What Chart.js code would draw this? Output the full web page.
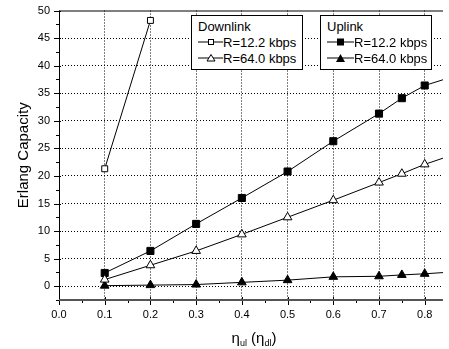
<!DOCTYPE html>
<html>
<head>
<meta charset="utf-8">
<script src="https://cdn.jsdelivr.net/npm/chart.js@4"></script>
<style>
  body { margin: 0; background: #fff; font-family: "Liberation Sans", Arial, sans-serif; }
  #wrap { position: relative; width: 449px; height: 349px; overflow: hidden; }
  .legend { position: absolute; top: 15px; height: 50px; border: 1px solid #000; background: #fff;
            font-size: 13px; line-height: 16px; padding-top: 3px; box-sizing: content-box; }
  .legend .row { white-space: nowrap; height: 16px; }
  .legend svg { vertical-align: middle; margin-top: -3px; }
  #xtitle { position: absolute; left: 0; width: 508px; top: 329px; text-align: center; font-size: 15px; }
  #xtitle sub { font-size: 9px; vertical-align: -3px; }
</style>
</head>
<body>
<div id="wrap">
  <canvas id="erlangChart"></canvas>
  <div class="legend" style="left:191px; width:104px; padding-left:6px;">
    <div class="row">Downlink</div>
    <div class="row"><svg width="25" height="10"><line x1="0" y1="5" x2="25" y2="5" stroke="#000"/><rect x="10.5" y="2.5" width="5" height="5" fill="#fff" stroke="#000"/></svg>R=12.2 kbps</div>
    <div class="row"><svg width="25" height="10"><line x1="0" y1="5" x2="25" y2="5" stroke="#000"/><polygon points="13,1.5 17,8 9,8" fill="#fff" stroke="#000"/></svg>R=64.0 kbps</div>
  </div>
  <div class="legend" style="left:320px; width:104px; padding-left:6px;">
    <div class="row">Uplink</div>
    <div class="row"><svg width="27" height="10"><line x1="0" y1="5" x2="27" y2="5" stroke="#000"/><rect x="10" y="1.5" width="7" height="7" fill="#000"/></svg>R=12.2 kbps</div>
    <div class="row"><svg width="27" height="10"><line x1="0" y1="5" x2="27" y2="5" stroke="#000"/><polygon points="13.5,1 18,9 9,9" fill="#000"/></svg>R=64.0 kbps</div>
  </div>
  <div id="xtitle">&eta;<sub>ul</sub> (&eta;<sub>dl</sub>)</div>
</div>
<script>
// load factor values
const etaValues = [0.1, 0.2, 0.3, 0.4, 0.5, 0.6, 0.7, 0.75, 0.8, 0.9];
const dlEtaValues = [0.1, 0.2];

// Erlang capacity
const downlink122 = [21.3, 48.2];
const downlink640 = [1.2, 3.8, 6.4, 9.4, 12.5, 15.6, 18.8, 20.4, 22.1, 24.9];
const uplink122 = [2.4, 6.4, 11.3, 16.0, 20.8, 26.3, 31.3, 34.1, 36.4, 39.0];
const uplink640 = [0.1, 0.2, 0.3, 0.7, 1.1, 1.7, 1.8, 2.05, 2.25, 2.8];

const xTicks = [0, 0.1, 0.2, 0.3, 0.4, 0.5, 0.6, 0.7, 0.8];
const yTicks = [0, 5, 10, 15, 20, 25, 30, 35, 40, 45, 50];

const toPoints = (xs, ys) => ys.map((y, i) => ({ x: xs[i], y: y }));
const font = { family: 'Liberation Sans, Arial, sans-serif', size: 11 };

// axis lines + major/minor tick marks
const axisPlugin = {
  id: 'axisPlugin',
  afterDraw(chart) {
    const { ctx, chartArea: a, scales: { x, y } } = chart;
    ctx.save();
    ctx.strokeStyle = '#000';
    ctx.lineWidth = 1;
    ctx.beginPath();
    ctx.moveTo(a.left, a.top + 0.5); ctx.lineTo(a.right, a.top + 0.5);
    ctx.moveTo(a.left + 0.5, a.top); ctx.lineTo(a.left + 0.5, a.bottom);
    for (let v = -2.5; v <= 50; v += 2.5) {
      const py = Math.round(y.getPixelForValue(v)) + 0.5;
      const major = v % 5 === 0;
      ctx.moveTo(a.left - (major ? 5 : 3), py); ctx.lineTo(a.left + (major ? 2 : 0), py);
    }
    for (let i = 0; i <= 16; i++) {
      const v = i * 0.05;
      const px = Math.round(x.getPixelForValue(v)) + 0.5;
      const major = i % 2 === 0;
      ctx.moveTo(px, a.bottom - (major ? 3 : 1)); ctx.lineTo(px, a.bottom + (major ? 5 : 3));
    }
    ctx.stroke();
    ctx.strokeStyle = '#555';
    ctx.lineWidth = 2;
    ctx.beginPath();
    ctx.moveTo(a.left, a.bottom); ctx.lineTo(a.right, a.bottom);
    ctx.stroke();
    ctx.restore();
  }
};

const ctx = document.getElementById('erlangChart').getContext('2d');
new Chart(ctx, {
  type: 'line',
  data: {
    datasets: [
      {
        label: 'Downlink R=12.2 kbps',
        data: toPoints(dlEtaValues, downlink122),
        borderColor: '#000', borderWidth: 1,
        pointStyle: 'rect', pointRadius: 4.2,
        pointBackgroundColor: '#fff', pointBorderColor: '#000', pointBorderWidth: 1
      },
      {
        label: 'Downlink R=64.0 kbps',
        data: toPoints(etaValues, downlink640),
        borderColor: '#000', borderWidth: 1,
        pointStyle: 'triangle', pointRadius: 5,
        pointBackgroundColor: '#fff', pointBorderColor: '#000', pointBorderWidth: 1
      },
      {
        label: 'Uplink R=12.2 kbps',
        data: toPoints(etaValues, uplink122),
        borderColor: '#000', borderWidth: 1,
        pointStyle: 'rect', pointRadius: 5,
        pointBackgroundColor: '#000', pointBorderColor: '#000', pointBorderWidth: 1
      },
      {
        label: 'Uplink R=64.0 kbps',
        data: toPoints(etaValues, uplink640),
        borderColor: '#000', borderWidth: 1,
        pointStyle: 'triangle', pointRadius: 5,
        pointBackgroundColor: '#000', pointBorderColor: '#000', pointBorderWidth: 1
      }
    ]
  },
  options: {
    responsive: true,
    maintainAspectRatio: false,
    animation: false,
    layout: { padding: { top: 0, right: 0, bottom: 0, left: 0 } },
    plugins: { legend: { display: false }, tooltip: { enabled: false } },
    scales: {
      x: {
        type: 'linear',
        min: 0, max: 0.84,
        afterBuildTicks: s => { s.ticks = xTicks.map(v => ({ value: v })); },
        afterFit: s => { s.height = 49; s.paddingLeft = 0; s.paddingRight = 0; },
        ticks: { font, color: '#000', padding: 8, maxRotation: 0, callback: v => v.toFixed(1) },
        grid: {
          drawTicks: false,
          color: c => (c.tick && c.tick.value > 0 ? '#000' : 'rgba(0,0,0,0)')
        },
        border: { display: false, dash: [1, 2] }
      },
      y: {
        type: 'linear',
        min: -2.5, max: 50,
        afterBuildTicks: s => { s.ticks = yTicks.map(v => ({ value: v })); },
        afterFit: s => { s.width = 59; s.paddingTop = 10.5; s.paddingBottom = 0; },
        ticks: { font, color: '#000', padding: 9 },
        title: {
          display: true, text: 'Erlang Capacity', color: '#000',
          font: { family: 'Liberation Sans, Arial, sans-serif', size: 15 },
          padding: { top: 15, bottom: 0 }
        },
        grid: {
          drawTicks: false,
          color: c => (c.tick && c.tick.value < 50 ? '#000' : 'rgba(0,0,0,0)')
        },
        border: { display: false, dash: [1, 2] }
      }
    }
  },
  plugins: [axisPlugin]
});
</script>
</body>
</html>
